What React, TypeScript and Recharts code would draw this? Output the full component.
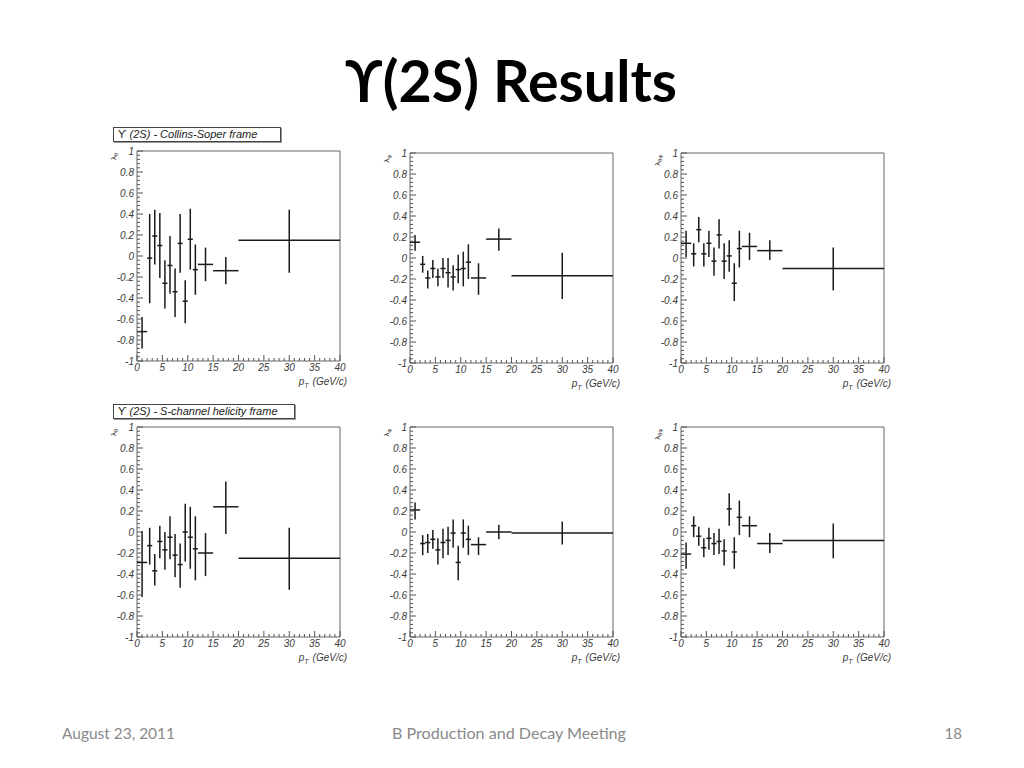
import React from "react";
import { ScatterChart, Scatter, XAxis, YAxis, ErrorBar, ReferenceArea } from "recharts";

// pT bins (GeV/c): centre and bin edges
const ptCenter = [1, 2.5, 3.5, 4.5, 5.5, 6.5, 7.5, 8.5, 9.5, 10.5, 11.5, 13.5, 17.5, 30];
const ptLow = [0, 2, 3, 4, 5, 6, 7, 8, 9, 10, 11, 12, 15, 20];
const ptHigh = [2, 3, 4, 5, 6, 7, 8, 9, 10, 11, 12, 15, 20, 40];

// Collins-Soper frame
const csTheta = [-0.72, -0.02, 0.19, 0.1, -0.26, -0.09, -0.34, 0.12, -0.43, 0.16, -0.13, -0.08, -0.14, 0.15];
const csThetaLo = [-0.88, -0.45, -0.08, -0.21, -0.5, -0.36, -0.58, -0.16, -0.64, -0.13, -0.37, -0.24, -0.27, -0.16];
const csThetaHi = [-0.58, 0.4, 0.44, 0.41, -0.04, 0.19, -0.12, 0.4, -0.23, 0.45, 0.11, 0.08, -0.01, 0.44];

const csPhi = [0.15, -0.06, -0.19, -0.1, -0.18, -0.1, -0.14, -0.18, -0.11, -0.1, -0.04, -0.19, 0.18, -0.17];
const csPhiLo = [0.07, -0.14, -0.29, -0.19, -0.27, -0.19, -0.28, -0.31, -0.24, -0.27, -0.2, -0.35, 0.07, -0.39];
const csPhiHi = [0.22, 0.02, -0.12, -0.02, -0.1, 0.0, 0.0, -0.07, 0.03, 0.06, 0.13, -0.05, 0.28, 0.05];

const csThetaPhi = [0.14, 0.04, 0.27, 0.04, 0.14, -0.03, 0.22, -0.03, 0.02, -0.24, 0.09, 0.11, 0.07, -0.1];
const csThetaPhiLo = [0.01, -0.08, 0.15, -0.08, 0.01, -0.17, 0.09, -0.2, -0.13, -0.41, -0.09, -0.02, -0.02, -0.31];
const csThetaPhiHi = [0.26, 0.14, 0.39, 0.14, 0.26, 0.1, 0.37, 0.14, 0.17, -0.05, 0.26, 0.24, 0.17, 0.1];

// S-channel helicity frame
const hxTheta = [-0.29, -0.13, -0.37, -0.09, -0.17, -0.05, -0.22, -0.31, 0.0, -0.05, -0.16, -0.2, 0.24, -0.25];
const hxThetaLo = [-0.62, -0.31, -0.51, -0.25, -0.36, -0.26, -0.43, -0.53, -0.28, -0.35, -0.46, -0.42, -0.02, -0.55];
const hxThetaHi = [0.01, 0.04, -0.21, 0.06, 0.0, 0.15, -0.02, -0.11, 0.27, 0.24, 0.15, -0.01, 0.48, 0.04];

const hxPhi = [0.21, -0.11, -0.1, -0.07, -0.17, -0.1, -0.08, -0.01, -0.29, -0.01, -0.07, -0.12, 0.0, -0.01];
const hxPhiLo = [0.12, -0.22, -0.2, -0.16, -0.31, -0.25, -0.22, -0.15, -0.46, -0.15, -0.22, -0.22, -0.07, -0.12];
const hxPhiHi = [0.28, -0.03, -0.02, 0.02, -0.06, 0.03, 0.05, 0.12, -0.13, 0.12, 0.06, -0.05, 0.07, 0.1];

const hxThetaPhi = [-0.21, 0.06, -0.04, -0.15, -0.06, -0.11, -0.09, -0.18, 0.22, -0.19, 0.14, 0.06, -0.11, -0.08];
const hxThetaPhiLo = [-0.35, -0.05, -0.13, -0.24, -0.17, -0.22, -0.21, -0.32, 0.06, -0.35, -0.03, -0.05, -0.2, -0.25];
const hxThetaPhiHi = [-0.1, 0.15, 0.05, -0.06, 0.04, -0.01, 0.03, -0.07, 0.37, -0.05, 0.3, 0.15, -0.01, 0.08];

const yMajor = [-1, -0.8, -0.6, -0.4, -0.2, 0, 0.2, 0.4, 0.6, 0.8, 1];
const xMajor = [0, 5, 10, 15, 20, 25, 30, 35, 40];

const round2 = (v: number) => Math.round(v * 100) / 100;
const yTicks = yMajor.slice(0, -1).flatMap((v) => [0, 1, 2, 3, 4].map((k) => round2(v + k * 0.04))).concat([1]);
const xTicks = xMajor.slice(0, -1).flatMap((v) => [0, 1, 2, 3, 4].map((k) => v + k)).concat([40]);

const YAXIS_W = 36;
const MT = 12;
const MR = 14;
const XAXIS_H = 34;
const PLOT_W = 203;
const PLOT_H = 210;
const GAP = 3;

const tickFont = { fontFamily: "'Liberation Sans', Arial, sans-serif", fontStyle: "italic" as const, fontSize: 10, fill: "#3a3a3a" };

function YTick(props: any) {
  const { x, y, payload } = props;
  const v = payload.value as number;
  const major = yMajor.some((m) => Math.abs(m - v) < 1e-6);
  const ax = x + GAP;
  return (
    <g>
      <line x1={ax} x2={ax + (major ? 6 : 3)} y1={y} y2={y} stroke="#555" strokeWidth={1} />
      {major && (
        <text x={ax - 3} y={y} dy="0.35em" textAnchor="end" {...tickFont}>
          {String(v)}
        </text>
      )}
    </g>
  );
}

function XTick(props: any) {
  const { x, y, payload } = props;
  const v = payload.value as number;
  const major = xMajor.includes(v);
  const ay = y - GAP;
  return (
    <g>
      <line x1={x} x2={x} y1={ay} y2={ay - (major ? 6 : 3)} stroke="#555" strokeWidth={1} />
      {major && (
        <text x={x} y={ay + 3} dy="0.72em" textAnchor="middle" {...tickFont}>
          {String(v)}
        </text>
      )}
    </g>
  );
}

interface PanelProps {
  left: number;
  top: number;
  values: number[];
  lo: number[];
  hi: number[];
  sub: string;
}

function Panel({ left, top, values, lo, hi, sub }: PanelProps) {
  const data = ptCenter.map((x, i) => ({
    x,
    y: values[i],
    ex: [x - ptLow[i], ptHigh[i] - x],
    ey: [values[i] - lo[i], hi[i] - values[i]],
  }));
  const titleX = YAXIS_W - 24;
  const titleY = MT + 2;
  return (
    <div style={{ position: "absolute", left: left - YAXIS_W, top: top - MT }}>
      <ScatterChart
        width={YAXIS_W + PLOT_W + MR}
        height={MT + PLOT_H + XAXIS_H}
        margin={{ top: MT, right: MR, bottom: 0, left: 0 }}
      >
        <XAxis
          type="number"
          dataKey="x"
          domain={[0, 40]}
          ticks={xTicks}
          interval={0}
          height={XAXIS_H}
          tickSize={0}
          tickMargin={GAP}
          tickLine={false}
          axisLine={false}
          tick={<XTick />}
          allowDataOverflow
        />
        <YAxis
          type="number"
          dataKey="y"
          domain={[-1, 1]}
          ticks={yTicks}
          interval={0}
          width={YAXIS_W}
          tickSize={0}
          tickMargin={GAP}
          tickLine={false}
          axisLine={false}
          tick={<YTick />}
          allowDataOverflow
        />
        <ReferenceArea x1={0} x2={40} y1={-1} y2={1} fill="none" stroke="#666" strokeWidth={1} ifOverflow="visible" />
        <Scatter data={data} shape={() => <g />} isAnimationActive={false}>
          <ErrorBar dataKey="ey" direction="y" width={0} stroke="#1a1a1a" strokeWidth={1.5} isAnimationActive={false} />
          <ErrorBar dataKey="ex" direction="x" width={0} stroke="#1a1a1a" strokeWidth={1.5} isAnimationActive={false} />
        </Scatter>
        <text
          x={titleX}
          y={titleY}
          transform={`rotate(-90 ${titleX} ${titleY})`}
          textAnchor="end"
          dy="0.35em"
          fontFamily="'Liberation Sans', Arial, sans-serif"
          fontSize={8}
          fill="#333"
        >
          λ<tspan fontSize={5.5} dy={2}>{sub}</tspan>
        </text>
        <text
          x={YAXIS_W + PLOT_W + 7}
          y={MT + PLOT_H + 24}
          textAnchor="end"
          {...tickFont}
        >
          p<tspan fontSize={7} dy={3}>T</tspan>
          <tspan dy={-3} dx={4}>(GeV/c)</tspan>
        </text>
      </ScatterChart>
    </div>
  );
}

const boxStyle: React.CSSProperties = {
  position: "absolute",
  height: 13,
  border: "1px solid #444",
  boxShadow: "1px 1px 0 #999",
  background: "#fff",
  fontFamily: "'Liberation Sans', Arial, sans-serif",
  fontStyle: "italic",
  fontSize: 11,
  lineHeight: "13px",
  color: "#222",
  paddingLeft: 4,
  boxSizing: "content-box",
  whiteSpace: "nowrap",
};

export default function App() {
  return (
    <div style={{ position: "absolute", left: 0, top: 0, width: 1024, height: 768, background: "#fff", overflow: "hidden" }}>
      <svg width={1024} height={768} style={{ position: "absolute", left: 0, top: 0 }}>
        <text
          x={511}
          y={102}
          textAnchor="middle"
          fontFamily="Lato, 'Open Sans', sans-serif"
          fontWeight={700}
          fontSize={58}
          fill="#000"
          textLength={332}
          lengthAdjust="spacingAndGlyphs"
        >
          ϒ(2S) Results
        </text>
        <text x={62} y={739} fontFamily="Lato, sans-serif" fontSize={15} fill="#898989" textLength={113} lengthAdjust="spacingAndGlyphs">
          August 23, 2011
        </text>
        <text x={392} y={739} fontFamily="Lato, sans-serif" fontSize={15} fill="#898989" textLength={234} lengthAdjust="spacingAndGlyphs">
          B Production and Decay Meeting
        </text>
        <text x={962} y={739} textAnchor="end" fontFamily="Lato, sans-serif" fontSize={15} fill="#898989">
          18
        </text>
      </svg>

      <Panel left={137} top={151} values={csTheta} lo={csThetaLo} hi={csThetaHi} sub="θ" />
      <Panel left={410} top={153} values={csPhi} lo={csPhiLo} hi={csPhiHi} sub="φ" />
      <Panel left={681} top={153} values={csThetaPhi} lo={csThetaPhiLo} hi={csThetaPhiHi} sub="θφ" />
      <Panel left={137} top={427} values={hxTheta} lo={hxThetaLo} hi={hxThetaHi} sub="θ" />
      <Panel left={410} top={427} values={hxPhi} lo={hxPhiLo} hi={hxPhiHi} sub="φ" />
      <Panel left={681} top={427} values={hxThetaPhi} lo={hxThetaPhiLo} hi={hxThetaPhiHi} sub="θφ" />

      <div style={{ ...boxStyle, left: 113, top: 127, width: 162 }}>
        <span style={{ fontStyle: "normal" }}>ϒ</span> (2S) - Collins-Soper frame
      </div>
      <div style={{ ...boxStyle, left: 113, top: 404, width: 176 }}>
        <span style={{ fontStyle: "normal" }}>ϒ</span> (2S) - S-channel helicity frame
      </div>
    </div>
  );
}
